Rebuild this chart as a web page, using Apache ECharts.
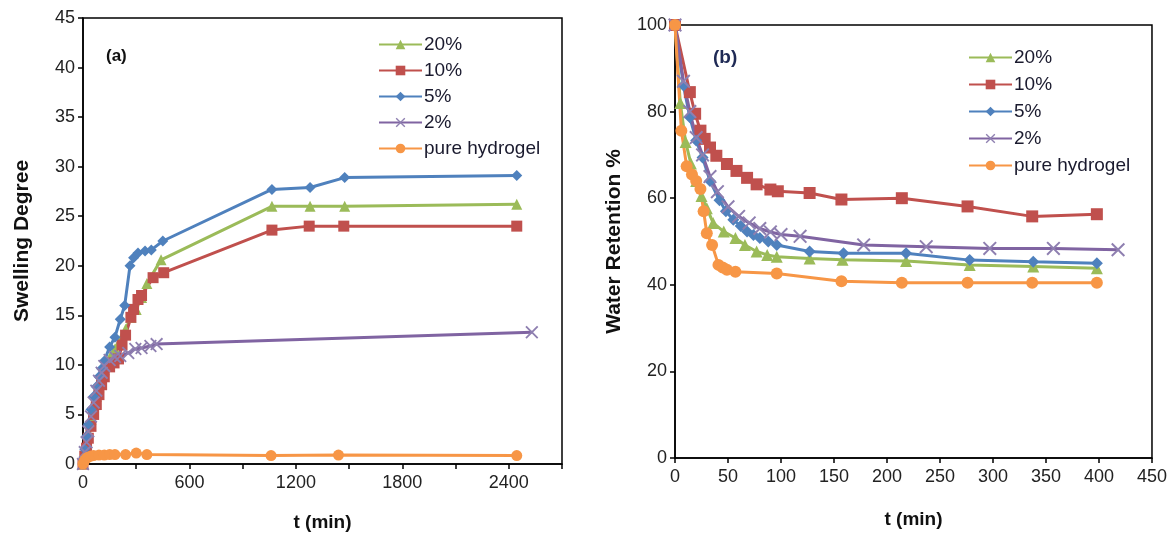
<!DOCTYPE html>
<html>
<head>
<meta charset="utf-8">
<script src="https://cdn.jsdelivr.net/npm/echarts@6/dist/echarts.min.js"></script>
<style>
html,body{margin:0;padding:0;background:#fff;}
#chart{width:1170px;height:537px;}
</style>
</head>
<body>
<div id="chart"></div>
<script>
// series names
var names = ['20%', '10%', '5%', '2%', 'pure hydrogel'];

// (a) swelling degree vs t (min)
var tA20 = [0,10,20,30,45,60,75,90,105,120,150,180,210,240,270,300,330,360,440,1065,1280,1475,2445];
var swell20 = [0,1.2,2.2,3.2,4.5,5.7,6.8,7.8,8.7,9.5,10.7,11.6,12.5,13.6,14.8,15.6,16.8,18.2,20.6,26,26,26,26.2];
var tA10 = [0,10,20,30,45,60,75,90,105,120,150,175,200,220,240,270,285,310,330,395,455,1065,1275,1470,2445];
var swell10 = [0,0.8,1.6,2.6,3.8,5,6,7,8,8.8,9.8,10.2,10.6,12,13,14.8,15.6,16.6,17,18.8,19.3,23.6,24,24,24];
var tA5 = [0,10,20,30,45,60,75,90,105,120,150,180,210,235,265,285,310,350,385,450,1065,1280,1475,2445];
var swell5 = [0,1.5,2.8,4,5.5,6.8,7.8,8.8,9.6,10.4,11.8,12.8,14.6,16,20,20.8,21.3,21.5,21.6,22.5,27.7,27.9,28.9,29.1];
var tA2 = [0,10,20,30,45,60,75,90,105,120,150,180,210,255,295,330,380,415,2530];
var swell2 = [0,1.2,2.2,3.3,4.8,6.2,7.4,8.4,9.2,9.9,10.5,10.8,10.9,11.2,11.6,11.7,11.9,12.1,13.3];
var tAp = [0,5,10,20,30,45,60,90,120,150,180,240,300,360,1060,1440,2445];
var swellP = [0,0.2,0.4,0.6,0.7,0.8,0.85,0.9,0.9,0.95,0.95,0.95,1.1,0.95,0.85,0.9,0.85];

// (b) water retention % vs t (min)
var tB20 = [0,5,10,15,20,25,30,36,46,57,66,77,87,96,127,158,218,278,338,398];
var ret20 = [100,82,73,68,64,60.5,57.7,54.3,52.3,50.8,49.2,47.7,46.9,46.5,46.1,45.8,45.5,44.6,44.2,43.8];
var tB10 = [0,14,19,24,28,33,39,49,58,68,77,90,97,127,157,214,276,337,398];
var ret10 = [100,84.5,79.5,75.6,73.7,71.7,69.8,67.9,66.3,64.7,63.2,62,61.6,61.2,59.7,60,58.1,55.8,56.3];
var tB5 = [0,8,14,20,26,33,42,48,55,62,68,74,80,88,96,127,159,218,278,338,398];
var ret5 = [100,86,78.7,73.3,69.4,64,59.5,57,55,53.6,52.3,51.5,50.8,50,49.2,47.7,47.3,47.3,45.7,45.3,45];
var tB2 = [0,8,14,20,26,33,40,50,60,70,80,90,100,118,178,237,297,357,418];
var ret2 = [100,87,80,74,70,65,61.5,58,55.8,54.3,53,52.2,51.6,51.2,49.2,48.8,48.4,48.4,48.1];
var tBp = [0,6,11,16,20,24,27,30,35,41,45,49,57,96,157,214,276,337,398];
var retP = [100,75.6,67.4,65.5,64,62.1,57,51.9,49.2,44.6,44,43.5,43,42.6,40.8,40.5,40.5,40.5,40.5];

var colors = ['#9BBB59', '#C0504D', '#4F81BD', '#8064A2', '#F79646'];
var crossPath = 'path://M0,1 L1,0 L5,4 L9,0 L10,1 L6,5 L10,9 L9,10 L5,6 L1,10 L0,9 L4,5 Z';
var symbols = ['triangle', 'rect', 'diamond', crossPath, 'circle'];
var font = 'Arial, "Liberation Sans", sans-serif';

function pairs(xs, ys) {
	var out = [];
	for (var i = 0; i < xs.length; i++) out.push([xs[i], ys[i]]);
	return out;
}

function mkSeries(name, idx, data, gi, size) {
	return {
		name: name,
		type: 'line',
		xAxisIndex: gi,
		yAxisIndex: gi,
		data: data,
		symbol: symbols[idx],
		symbolSize: idx == 3 ? size + 2 : size,
		showAllSymbol: true,
		color: colors[idx],
		lineStyle: {width: 3, color: colors[idx]},
		itemStyle: {color: idx == 3 ? '#8E7FB0' : colors[idx]},
		animation: false
	};
}

var leftData = [pairs(tA20, swell20), pairs(tA10, swell10), pairs(tA5, swell5), pairs(tA2, swell2), pairs(tAp, swellP)];
var rightData = [pairs(tB20, ret20), pairs(tB10, ret10), pairs(tB5, ret5), pairs(tB2, ret2), pairs(tBp, retP)];

var series = [];
for (var i = 0; i < names.length; i++) series.push(mkSeries(names[i], i, leftData[i], 0, 11));
for (var j = 0; j < names.length; j++) series.push(mkSeries(names[j], j, rightData[j], 1, 12));

var axisLine = {lineStyle: {color: '#000', width: 1.5}};
var axisTick = {length: 5, lineStyle: {color: '#000', width: 1.5}};
var axisLabel = {color: '#222', fontSize: 18, fontFamily: font};
var nameStyle = {color: '#111', fontSize: 19, fontWeight: 'bold', fontFamily: font};
var yNameStyle = {color: '#111', fontSize: 21, fontWeight: 'bold', fontFamily: font};

function legendFor(left, top, gap) {
	return {
		orient: 'vertical',
		left: left,
		top: top,
		itemWidth: 43,
		itemHeight: 12,
		itemGap: gap,
		data: names,
		textStyle: {color: '#1a1a2e', fontSize: 19, fontFamily: font, padding: [0, 0, 0, -3]}
	};
}

var chart = echarts.init(document.getElementById('chart'));
var option = {
	backgroundColor: '#fff',
	animation: false,
	grid: [
		{left: 83, top: 18, right: 608, bottom: 72, show: true, borderColor: '#000', borderWidth: 1.5},
		{left: 675, top: 25, right: 18, bottom: 79, show: true, borderColor: '#000', borderWidth: 1.5}
	],
	legend: [legendFor(373, 30, 7), legendFor(963, 43, 8)],
	xAxis: [
		{
			type: 'value', gridIndex: 0, min: 0, max: 2700, interval: 300,
			name: 't (min)', nameLocation: 'middle', nameGap: 49, nameTextStyle: nameStyle,
			axisLine: axisLine, axisTick: axisTick, splitLine: {show: false},
			axisLabel: {
				color: '#222', fontSize: 18, fontFamily: font, margin: 10,
				formatter: function(v) { return v % 600 === 0 ? String(v) : ''; }
			}
		},
		{
			type: 'value', gridIndex: 1, min: 0, max: 450, interval: 50,
			name: 't (min)', nameLocation: 'middle', nameGap: 52, nameTextStyle: nameStyle,
			axisLine: axisLine, axisTick: axisTick, splitLine: {show: false},
			axisLabel: {color: '#222', fontSize: 18, fontFamily: font, margin: 10}
		}
	],
	yAxis: [
		{
			type: 'value', gridIndex: 0, min: 0, max: 45, interval: 5,
			name: 'Swelling Degree', nameLocation: 'middle', nameGap: 50, nameTextStyle: yNameStyle,
			axisLine: axisLine, axisTick: axisTick, splitLine: {show: false}, axisLabel: axisLabel
		},
		{
			type: 'value', gridIndex: 1, min: 0, max: 100, interval: 20,
			name: 'Water Retention %', nameLocation: 'middle', nameGap: 50, nameTextStyle: yNameStyle,
			axisLine: axisLine, axisTick: axisTick, splitLine: {show: false}, axisLabel: axisLabel
		}
	],
	graphic: [
		{type: 'text', left: 106, top: 48, style: {text: '(a)', font: 'bold 17px ' + font, fill: '#111'}},
		{type: 'text', left: 713, top: 48, style: {text: '(b)', font: 'bold 19px ' + font, fill: '#1F2A55'}}
	],
	series: series
};
chart.setOption(option);
</script>
</body>
</html>
